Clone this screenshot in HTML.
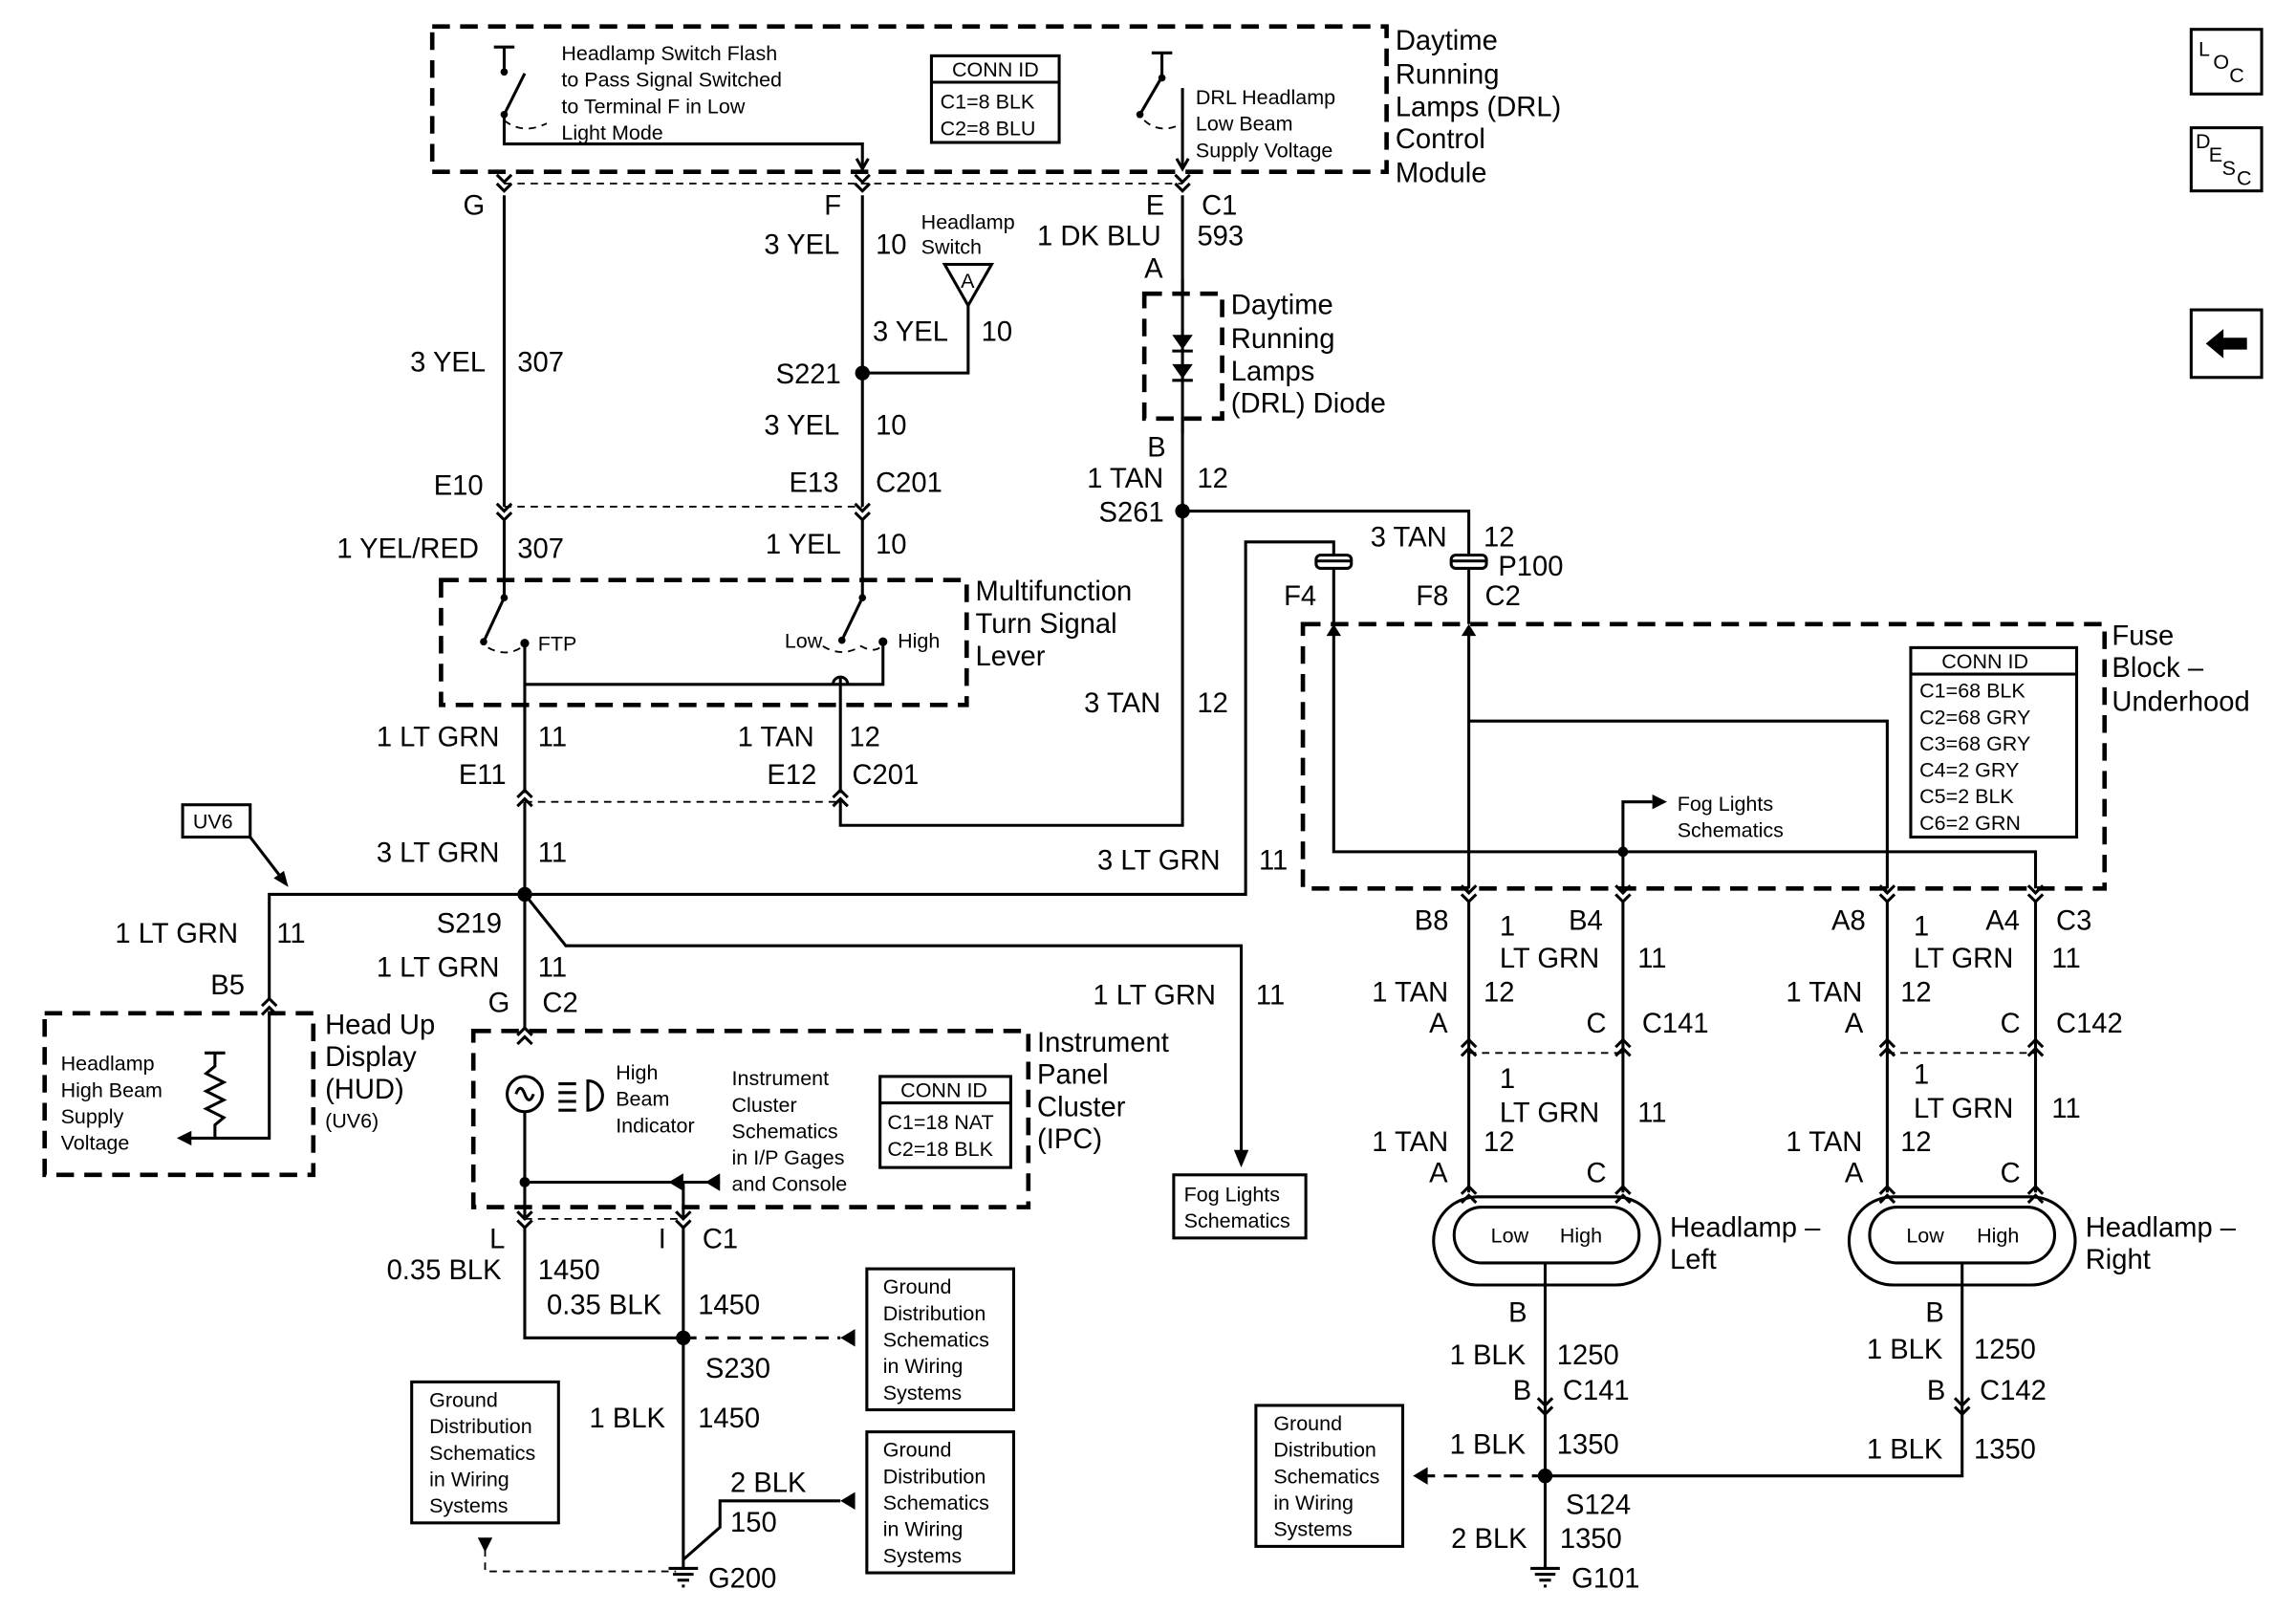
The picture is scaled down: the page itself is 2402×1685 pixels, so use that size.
<!DOCTYPE html>
<html><head><meta charset="utf-8"><style>
html,body{margin:0;padding:0;background:#fff}
svg{display:block}
text{font-family:"Liberation Sans",sans-serif;font-size:19px;fill:#000}
.s{font-size:14px}
.w{stroke:#000;stroke-width:2;fill:none}
.d{stroke:#000;stroke-width:3;fill:none;stroke-dasharray:12,7}
.l{stroke:#000;stroke-width:1.2;fill:none;stroke-dasharray:5,4}
.b{stroke:#000;stroke-width:2;fill:#fff}
</style></head><body>
<svg width="2402" height="1685" viewBox="0 0 1563 1097" xmlns="http://www.w3.org/2000/svg">
<defs>
<g id="cv"><polyline points="-5,-3 0,2 5,-3" class="w"/><polyline points="-5,3 0,8 5,3" class="w"/></g>
<g id="cu"><polyline points="-5,3 0,-2 5,3" class="w"/><polyline points="-5,9 0,4 5,9" class="w"/></g>
</defs>
<!-- DRL module -->
<rect x="294" y="18" width="650" height="99" class="d"/>
<text x="950" y="34">Daytime</text><text x="950" y="57">Running</text><text x="950" y="79">Lamps (DRL)</text><text x="950" y="101">Control</text><text x="950" y="124">Module</text>
<line x1="336" y1="32" x2="350" y2="32" class="w"/><line x1="343" y1="32" x2="343" y2="48" class="w"/><circle cx="343" cy="49" r="2.5"/>
<line x1="343" y1="78" x2="357" y2="50" class="w"/><circle cx="343" cy="78" r="2.5"/><path d="M343,82 Q356,92 372,84" class="l"/>
<polyline points="343,78 343,98 587,98 587,115" class="w"/><polyline points="583,108 587,115 591,108" class="w"/>
<text class="s" x="382" y="41">Headlamp Switch Flash</text><text class="s" x="382" y="59">to Pass Signal Switched</text><text class="s" x="382" y="77">to Terminal F in Low</text><text class="s" x="382" y="95">Light Mode</text>
<rect x="634" y="38" width="87" height="59" class="w"/><line x1="634" y1="56" x2="721" y2="56" class="w"/>
<text class="s" x="648" y="52">CONN ID</text><text class="s" x="640" y="74">C1=8 BLK</text><text class="s" x="640" y="92">C2=8 BLU</text>
<line x1="784" y1="36" x2="798" y2="36" class="w"/><line x1="791" y1="36" x2="791" y2="52" class="w"/><circle cx="791" cy="53" r="2.5"/>
<line x1="776" y1="78" x2="790" y2="54" class="w"/><circle cx="776" cy="78" r="2.5"/><path d="M779,82 Q790,92 805,84" class="l"/>
<line x1="805" y1="60" x2="805" y2="115" class="w"/><polyline points="801,108 805,115 809,108" class="w"/>
<text class="s" x="814" y="71">DRL Headlamp</text><text class="s" x="814" y="89">Low Beam</text><text class="s" x="814" y="107">Supply Voltage</text>
<line x1="343" y1="125" x2="805" y2="125" class="l"/>
<use href="#cv" x="343" y="122"/><use href="#cv" x="587" y="122"/><use href="#cv" x="805" y="122"/>
<text x="315" y="146">G</text><text x="561" y="146">F</text><text x="780" y="146">E</text><text x="818" y="146">C1</text>
<!-- G wire -->
<line x1="343" y1="133" x2="343" y2="345" class="w"/>
<text x="279" y="253">3 YEL</text><text x="352" y="253">307</text><text x="295" y="337">E10</text>
<!-- F wire -->
<line x1="587" y1="133" x2="587" y2="345" class="w"/>
<text x="520" y="173">3 YEL</text><text x="596" y="173">10</text>
<circle cx="587" cy="254" r="5"/><text x="528" y="261">S221</text>
<polyline points="587,254 659,254 659,207" class="w"/>
<polygon points="643,180 675,180 659,208" class="w"/><text class="s" x="654" y="196">A</text>
<text class="s" x="627" y="156">Headlamp</text><text class="s" x="627" y="173">Switch</text>
<text x="594" y="232">3 YEL</text><text x="668" y="232">10</text>
<text x="520" y="296">3 YEL</text><text x="596" y="296">10</text>
<text x="537" y="335">E13</text><text x="596" y="335">C201</text>
<!-- E wire / diode -->
<line x1="805" y1="133" x2="805" y2="348" class="w"/>
<text x="706" y="167">1 DK BLU</text><text x="815" y="167">593</text><text x="779" y="189">A</text>
<rect x="779" y="200" width="53" height="85" class="d" style="fill:#fff"/>
<line x1="805" y1="190" x2="805" y2="295" class="w"/>
<polygon points="798,228 812,228 805,238"/><line x1="798" y1="239" x2="812" y2="239" class="w"/>
<polygon points="798,248 812,248 805,258"/><line x1="798" y1="259" x2="812" y2="259" class="w"/>
<text x="838" y="214">Daytime</text><text x="838" y="237">Running</text><text x="838" y="259">Lamps</text><text x="838" y="281">(DRL) Diode</text>
<text x="781" y="311">B</text><text x="740" y="332">1 TAN</text><text x="815" y="332">12</text>
<circle cx="805" cy="348" r="5"/><text x="748" y="355">S261</text>
<polyline points="805,348 1000,348 1000,378" class="w"/>
<polyline points="805,348 805,562 572,562 572,545" class="w"/>
<text x="738" y="485">3 TAN</text><text x="815" y="485">12</text>
<!-- C201 row -->
<line x1="343" y1="345" x2="587" y2="345" class="l"/>
<use href="#cv" x="343" y="346"/><use href="#cv" x="587" y="346"/>
<line x1="343" y1="354" x2="343" y2="405" class="w"/><line x1="587" y1="354" x2="587" y2="405" class="w"/>
<text x="229" y="380">1 YEL/RED</text><text x="352" y="380">307</text><text x="521" y="377">1 YEL</text><text x="596" y="377">10</text>
<!-- Multifunction -->
<rect x="300" y="395" width="358" height="85" class="d"/>
<text x="664" y="409">Multifunction</text><text x="664" y="431">Turn Signal</text><text x="664" y="453">Lever</text>
<circle cx="343" cy="407" r="2.5"/><line x1="343" y1="407" x2="329" y2="437" class="w"/><circle cx="329" cy="437" r="2.5"/>
<path d="M332,441 Q345,448 356,440" class="l"/><circle cx="357" cy="438" r="3"/>
<text class="s" x="366" y="443">FTP</text>
<circle cx="587" cy="407" r="2.5"/><line x1="587" y1="407" x2="573" y2="436" class="w"/><circle cx="573" cy="436" r="2.5"/>
<path d="M560,440 Q573,448 586,440 Q595,445 600,440" class="l"/><circle cx="601" cy="437" r="3"/>
<text class="s" x="534" y="441">Low</text><text class="s" x="611" y="441">High</text>
<polyline points="601,437 601,466 357,466" class="w"/><line x1="357" y1="438" x2="357" y2="540" class="w"/>
<path d="M572,466 M567,466 A5,5 0 0 1 577,466" class="w"/>
<line x1="572" y1="461" x2="572" y2="540" class="w"/>
<text x="256" y="508">1 LT GRN</text><text x="366" y="508">11</text><text x="502" y="508">1 TAN</text><text x="578" y="508">12</text>
<text x="312" y="534">E11</text><text x="522" y="534">E12</text><text x="580" y="534">C201</text>
<line x1="357" y1="546" x2="572" y2="546" class="l"/>
<use href="#cu" x="357" y="540"/><use href="#cu" x="572" y="540"/>
<line x1="357" y1="546" x2="357" y2="700" class="w"/>
<text x="256" y="587">3 LT GRN</text><text x="366" y="587">11</text>
<!-- S219 -->
<circle cx="357" cy="609" r="5"/>
<polyline points="183,680 183,609 848,609 848,369 908,369 908,378" class="w"/>
<text x="747" y="592">3 LT GRN</text><text x="857" y="592">11</text>
<rect x="124" y="548" width="46" height="22" class="w"/><text class="s" x="131" y="564">UV6</text>
<line x1="170" y1="570" x2="193" y2="600" class="w"/><polygon points="196,604 186,598 193,593"/>
<text x="78" y="642">1 LT GRN</text><text x="188" y="642">11</text><text x="143" y="677">B5</text>
<use href="#cu" x="183" y="682"/>
<polyline points="357,609 385,644 845,644 845,785" class="w"/><polygon points="840,783 850,783 845,795"/>
<text x="744" y="684">1 LT GRN</text><text x="855" y="684">11</text>
<rect x="799" y="800" width="90" height="43" class="w"/><text class="s" x="806" y="818">Fog Lights</text><text class="s" x="806" y="836">Schematics</text>
<text x="297" y="635">S219</text><text x="256" y="665">1 LT GRN</text><text x="366" y="665">11</text>
<text x="332" y="689">G</text><text x="369" y="689">C2</text>
<use href="#cu" x="357" y="702"/>
<!-- HUD -->
<rect x="30" y="690" width="183" height="110" class="d"/>
<text x="221" y="704">Head Up</text><text x="221" y="726">Display</text><text x="221" y="748">(HUD)</text><text class="s" x="221" y="768">(UV6)</text>
<text class="s" x="41" y="729">Headlamp</text><text class="s" x="41" y="747">High Beam</text><text class="s" x="41" y="765">Supply</text><text class="s" x="41" y="783">Voltage</text>
<line x1="139" y1="717" x2="153" y2="717" class="w"/>
<polyline points="146,717 146,726 140,731 152,737 140,743 152,749 140,755 152,761 146,766 146,775" class="w"/>
<polyline points="183,690 183,775 128,775" class="w"/><polygon points="120,775 130,770 130,780"/>
<!-- IPC -->
<rect x="322" y="702" width="378" height="120" class="d"/>
<text x="706" y="716">Instrument</text><text x="706" y="738">Panel</text><text x="706" y="760">Cluster</text><text x="706" y="782">(IPC)</text>
<circle cx="357" cy="745" r="12" class="b"/><path d="M351,745 q3,-8 6,0 q3,8 6,0" class="w"/>
<line x1="380" y1="738" x2="392" y2="738" class="w"/><line x1="380" y1="744" x2="392" y2="744" class="w"/><line x1="380" y1="750" x2="392" y2="750" class="w"/><line x1="380" y1="756" x2="392" y2="756" class="w"/>
<path d="M400,736 a10,10 0 0 1 0,20 z" class="w"/>
<text class="s" x="419" y="735">High</text><text class="s" x="419" y="753">Beam</text><text class="s" x="419" y="771">Indicator</text>
<text class="s" x="498" y="739">Instrument</text><text class="s" x="498" y="757">Cluster</text><text class="s" x="498" y="775">Schematics</text><text class="s" x="498" y="793">in I/P Gages</text><text class="s" x="498" y="811">and Console</text>
<rect x="599" y="733" width="89" height="62" class="w"/><line x1="599" y1="751" x2="688" y2="751" class="w"/>
<text class="s" x="613" y="747">CONN ID</text><text class="s" x="604" y="769">C1=18 NAT</text><text class="s" x="604" y="787">C2=18 BLK</text>
<line x1="357" y1="757" x2="357" y2="830" class="w"/><circle cx="357" cy="805" r="3.5"/>
<line x1="357" y1="805" x2="490" y2="805" class="w"/><polygon points="455,805 465,799 465,811"/><polygon points="480,805 490,799 490,811"/>
<line x1="465" y1="805" x2="465" y2="830" class="w"/>
<line x1="357" y1="830" x2="465" y2="830" class="l"/>
<use href="#cv" x="357" y="828"/><use href="#cv" x="465" y="828"/>
<text x="333" y="850">L</text><text x="448" y="850">I</text><text x="478" y="850">C1</text>
<text x="263" y="871">0.35 BLK</text><text x="366" y="871">1450</text><text x="372" y="895">0.35 BLK</text><text x="475" y="895">1450</text>
<polyline points="357,836 357,911 465,911" class="w"/><line x1="465" y1="836" x2="465" y2="1068" class="w"/>
<circle cx="465" cy="911" r="5"/>
<line x1="465" y1="911" x2="572" y2="911" class="l" style="stroke-width:2;stroke-dasharray:9,6"/><polygon points="572,911 582,905 582,917"/>
<text x="480" y="938">S230</text><text x="401" y="972">1 BLK</text><text x="475" y="972">1450</text>
<polyline points="572,1022 490,1022 490,1040 465,1062" class="w"/><polygon points="572,1022 582,1016 582,1028"/>
<text x="497" y="1016">2 BLK</text><text x="497" y="1043">150</text>
<line x1="455" y1="1068" x2="475" y2="1068" class="w"/><line x1="458" y1="1072" x2="472" y2="1072" class="w"/><line x1="461" y1="1076" x2="469" y2="1076" class="w"/><line x1="464" y1="1080" x2="466" y2="1080" class="w"/>
<text x="482" y="1081">G200</text>
<polyline points="330,1055 330,1070 460,1070" class="l"/><polygon points="325,1047 335,1047 330,1057"/>
<rect x="590" y="864" width="100" height="96" class="w"/><text class="s" x="601" y="881">Ground</text><text class="s" x="601" y="899">Distribution</text><text class="s" x="601" y="917">Schematics</text><text class="s" x="601" y="935">in Wiring</text><text class="s" x="601" y="953">Systems</text>
<rect x="590" y="975" width="100" height="96" class="w"/><text class="s" x="601" y="992">Ground</text><text class="s" x="601" y="1010">Distribution</text><text class="s" x="601" y="1028">Schematics</text><text class="s" x="601" y="1046">in Wiring</text><text class="s" x="601" y="1064">Systems</text>
<rect x="280" y="941" width="100" height="96" class="w"/><text class="s" x="292" y="958">Ground</text><text class="s" x="292" y="976">Distribution</text><text class="s" x="292" y="994">Schematics</text><text class="s" x="292" y="1012">in Wiring</text><text class="s" x="292" y="1030">Systems</text>
<!-- P100 -->
<rect x="896" y="378" width="24" height="9" rx="3" class="b"/><rect x="988" y="378" width="24" height="9" rx="3" class="b"/>
<line x1="896" y1="382" x2="920" y2="382" class="w"/><line x1="988" y1="382" x2="1012" y2="382" class="w"/>
<line x1="908" y1="387" x2="908" y2="425" class="w"/><line x1="1000" y1="387" x2="1000" y2="425" class="w"/>
<text x="933" y="372">3 TAN</text><text x="1010" y="372">12</text><text x="1020" y="392">P100</text>
<text x="874" y="412">F4</text><text x="964" y="412">F8</text><text x="1011" y="412">C2</text>
<!-- Fuse block -->
<rect x="887" y="425" width="546" height="180" class="d"/>
<text x="1438" y="439">Fuse</text><text x="1438" y="461">Block –</text><text x="1438" y="484">Underhood</text>
<polygon points="908,425 903,433 913,433"/><polygon points="1000,425 995,433 1005,433"/>
<polyline points="908,430 908,580 1386,580 1386,605" class="w"/>
<line x1="1000" y1="430" x2="1000" y2="605" class="w"/>
<polyline points="1000,491 1285,491 1285,605" class="w"/>
<polyline points="1105,605 1105,546 1125,546" class="w"/><polygon points="1135,546 1125,541 1125,551"/>
<circle cx="1105" cy="580" r="3.5"/>
<text class="s" x="1142" y="552">Fog Lights</text><text class="s" x="1142" y="570">Schematics</text>
<rect x="1301" y="441" width="113" height="129" class="w"/><line x1="1301" y1="459" x2="1414" y2="459" class="w"/>
<text class="s" x="1322" y="455">CONN ID</text><text class="s" x="1307" y="475">C1=68 BLK</text><text class="s" x="1307" y="493">C2=68 GRY</text><text class="s" x="1307" y="511">C3=68 GRY</text><text class="s" x="1307" y="529">C4=2 GRY</text><text class="s" x="1307" y="547">C5=2 BLK</text><text class="s" x="1307" y="565">C6=2 GRN</text>
<!-- headlamp wires -->
<use href="#cv" x="1000" y="606"/><use href="#cv" x="1105" y="606"/><use href="#cv" x="1285" y="606"/><use href="#cv" x="1386" y="606"/>
<line x1="1000" y1="614" x2="1000" y2="812" class="w"/><line x1="1105" y1="614" x2="1105" y2="812" class="w"/>
<line x1="1285" y1="614" x2="1285" y2="812" class="w"/><line x1="1386" y1="614" x2="1386" y2="812" class="w"/>
<line x1="1000" y1="717" x2="1105" y2="717" class="l"/><line x1="1285" y1="717" x2="1386" y2="717" class="l"/>
<use href="#cu" x="1000" y="710"/><use href="#cu" x="1105" y="710"/><use href="#cu" x="1285" y="710"/><use href="#cu" x="1386" y="710"/>
<use href="#cu" x="1000" y="810"/><use href="#cu" x="1105" y="810"/><use href="#cu" x="1285" y="810"/><use href="#cu" x="1386" y="810"/>
<text x="963" y="633">B8</text><text x="1068" y="633">B4</text><text x="1247" y="633">A8</text><text x="1352" y="633">A4</text><text x="1400" y="633">C3</text>
<text x="1021" y="637">1</text><text x="1021" y="659">LT GRN</text><text x="1115" y="659">11</text>
<text x="1303" y="637">1</text><text x="1303" y="659">LT GRN</text><text x="1397" y="659">11</text>
<text x="934" y="682">1 TAN</text><text x="1010" y="682">12</text><text x="1216" y="682">1 TAN</text><text x="1294" y="682">12</text>
<text x="973" y="703">A</text><text x="1080" y="703">C</text><text x="1118" y="703">C141</text>
<text x="1256" y="703">A</text><text x="1362" y="703">C</text><text x="1400" y="703">C142</text>
<text x="1021" y="741">1</text><text x="1021" y="764">LT GRN</text><text x="1115" y="764">11</text>
<text x="1303" y="738">1</text><text x="1303" y="761">LT GRN</text><text x="1397" y="761">11</text>
<text x="934" y="784">1 TAN</text><text x="1010" y="784">12</text><text x="1216" y="784">1 TAN</text><text x="1294" y="784">12</text>
<text x="973" y="805">A</text><text x="1080" y="805">C</text><text x="1256" y="805">A</text><text x="1362" y="805">C</text>
<rect x="976" y="815" width="154" height="60" rx="30" class="w"/><rect x="990" y="822" width="126" height="38" rx="19" class="w"/>
<rect x="1259" y="815" width="154" height="60" rx="30" class="w"/><rect x="1273" y="822" width="126" height="38" rx="19" class="w"/>
<text class="s" x="1015" y="846">Low</text><text class="s" x="1062" y="846">High</text><text class="s" x="1298" y="846">Low</text><text class="s" x="1346" y="846">High</text>
<text x="1137" y="842">Headlamp –</text><text x="1137" y="864">Left</text><text x="1420" y="842">Headlamp –</text><text x="1420" y="864">Right</text>
<line x1="1052" y1="860" x2="1052" y2="1068" class="w"/><polyline points="1336,860 1336,1005 1052,1005" class="w"/>
<use href="#cv" x="1052" y="955"/><use href="#cv" x="1336" y="955"/>
<text x="1027" y="900">B</text><text x="987" y="929">1 BLK</text><text x="1060" y="929">1250</text><text x="1030" y="953">B</text><text x="1064" y="953">C141</text>
<text x="1311" y="900">B</text><text x="1271" y="925">1 BLK</text><text x="1344" y="925">1250</text><text x="1312" y="953">B</text><text x="1348" y="953">C142</text>
<text x="987" y="990">1 BLK</text><text x="1060" y="990">1350</text><text x="1271" y="993">1 BLK</text><text x="1344" y="993">1350</text>
<circle cx="1052" cy="1005" r="5"/>
<line x1="1052" y1="1005" x2="972" y2="1005" class="l" style="stroke-width:2;stroke-dasharray:9,6"/><polygon points="962,1005 972,999 972,1011"/>
<rect x="855" y="957" width="100" height="96" class="w"/><text class="s" x="867" y="974">Ground</text><text class="s" x="867" y="992">Distribution</text><text class="s" x="867" y="1010">Schematics</text><text class="s" x="867" y="1028">in Wiring</text><text class="s" x="867" y="1046">Systems</text>
<text x="1066" y="1031">S124</text><text x="988" y="1054">2 BLK</text><text x="1062" y="1054">1350</text>
<line x1="1042" y1="1068" x2="1062" y2="1068" class="w"/><line x1="1045" y1="1072" x2="1059" y2="1072" class="w"/><line x1="1048" y1="1076" x2="1056" y2="1076" class="w"/><line x1="1051" y1="1080" x2="1053" y2="1080" class="w"/>
<text x="1070" y="1081">G101</text>
<!-- icons -->
<rect x="1492" y="20" width="48" height="44" class="w"/><text class="s" x="1497" y="38">L</text><text class="s" x="1507" y="47">O</text><text class="s" x="1518" y="56">C</text>
<rect x="1492" y="87" width="48" height="43" class="w"/><text class="s" x="1495" y="101">D</text><text class="s" x="1504" y="110">E</text><text class="s" x="1513" y="119">S</text><text class="s" x="1523" y="126">C</text>
<rect x="1492" y="211" width="48" height="46" class="w"/><polygon points="1502,234 1514,224 1514,230 1530,230 1530,238 1514,238 1514,244"/>
</svg>
</body></html>
